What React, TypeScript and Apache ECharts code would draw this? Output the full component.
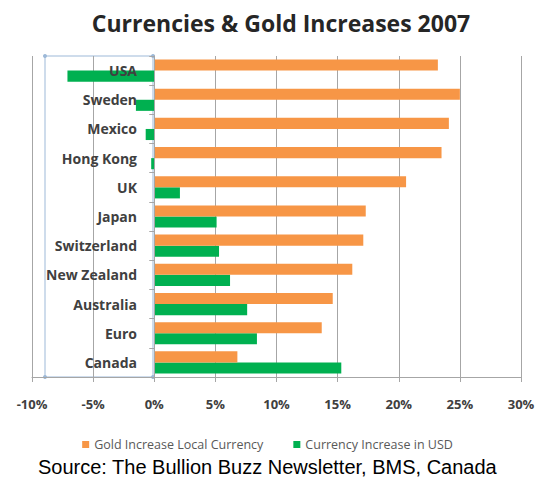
import React, { useEffect, useRef } from "react";
import * as echarts from "echarts";

const categories = ["USA", "Sweden", "Mexico", "Hong Kong", "UK", "Japan", "Switzerland", "New Zealand", "Australia", "Euro", "Canada"];
const goldLocal = [23.2, 25.0, 24.1, 23.5, 20.6, 17.3, 17.1, 16.2, 14.6, 13.7, 6.8];
const currencyUSD = [-7.1, -1.5, -0.7, -0.25, 2.1, 5.1, 5.3, 6.2, 7.6, 8.4, 15.3];
const titleText = "Currencies & Gold Increases 2007";
const sourceText = "Source: The Bullion Buzz Newsletter, BMS, Canada";
const legendNames = ["Gold Increase Local Currency", "Currency Increase in USD"];

export default function App() {
  const ref = useRef<HTMLDivElement>(null);
  useEffect(() => {
    const chart = echarts.init(ref.current!, null, { renderer: "svg" });
    const gridLeft = 32, gridTop = 56, gridRight = 535 - 521, gridBottom = 482 - 377;
    chart.setOption({
      animation: false,
      backgroundColor: "#ffffff",
      title: {
        text: titleText,
        left: 276,
        textAlign: "center",
        top: 6,
        textStyle: { fontFamily: "Open Sans", fontWeight: "bold", fontSize: 23, color: "#262626" },
      },
      legend: {
        data: legendNames,
        top: 433,
        left: "center",
        itemWidth: 7,
        itemHeight: 7,
        itemGap: 30,
        icon: "rect",
        textStyle: { fontFamily: "Open Sans", fontSize: 12.5, color: "#595959" },
      },
      grid: { left: gridLeft, right: gridRight, top: gridTop, bottom: gridBottom, containLabel: false, outerBoundsMode: "none" },
      xAxis: {
        type: "value",
        min: -10,
        max: 30,
        interval: 5,
        axisLine: { show: true, onZero: false, lineStyle: { color: "#a6a6a6" } },
        axisTick: { show: true, length: 5, lineStyle: { color: "#a6a6a6" } },
        splitLine: { show: true, lineStyle: { color: "#a6a6a6", width: 1 } },
        axisLabel: {
          formatter: (v: number) => v + "%",
          fontFamily: "Open Sans",
          fontWeight: "bold",
          fontSize: 13,
          color: "#404040",
          margin: 20,
        },
      },
      yAxis: {
        type: "category",
        data: categories,
        inverse: true,
        z: 10,
        axisLine: { show: true, onZero: true, lineStyle: { color: "#a6a6a6" } },
        axisTick: { show: true, length: 5, lineStyle: { color: "#a6a6a6" } },
        axisLabel: {
          fontFamily: "Open Sans",
          fontWeight: "bold",
          fontSize: 14,
          color: "#404040",
          margin: -105,
        },
        splitLine: { show: false },
      },
      series: [
        {
          name: legendNames[0],
          type: "bar",
          data: goldLocal,
          itemStyle: { color: "#f79646" },
          barGap: "0%",
          barCategoryGap: "24%",
          z: 3,
        },
        {
          name: legendNames[1],
          type: "bar",
          data: currencyUSD,
          itemStyle: { color: "#00b050" },
          barGap: "0%",
          barCategoryGap: "24%",
          z: 2,
        },
      ],
      graphic: [
        {
          type: "rect",
          shape: { x: 45, y: 56, width: 108, height: 321 },
          style: { fill: "none", stroke: "#9db9d8", lineWidth: 1 },
          silent: true,
          z: 0,
        },
        ...[
          [45, 56], [153, 56], [45, 377], [153, 377],
        ].map(([x, y]) => ({
          type: "circle",
          shape: { cx: x, cy: y, r: 2 },
          style: { fill: "#9db9d8" },
          silent: true,
          z: 0,
        })),
        {
          type: "text",
          left: "center",
          top: 457,
          style: {
            text: sourceText,
            fontFamily: "Liberation Sans",
            fontSize: 20,
            fill: "#000000",
          },
        },
      ],
    });
    return () => chart.dispose();
  }, []);
  return <div ref={ref} style={{ width: 535, height: 482, position: "absolute", left: 0, top: 0 }} />;
}
